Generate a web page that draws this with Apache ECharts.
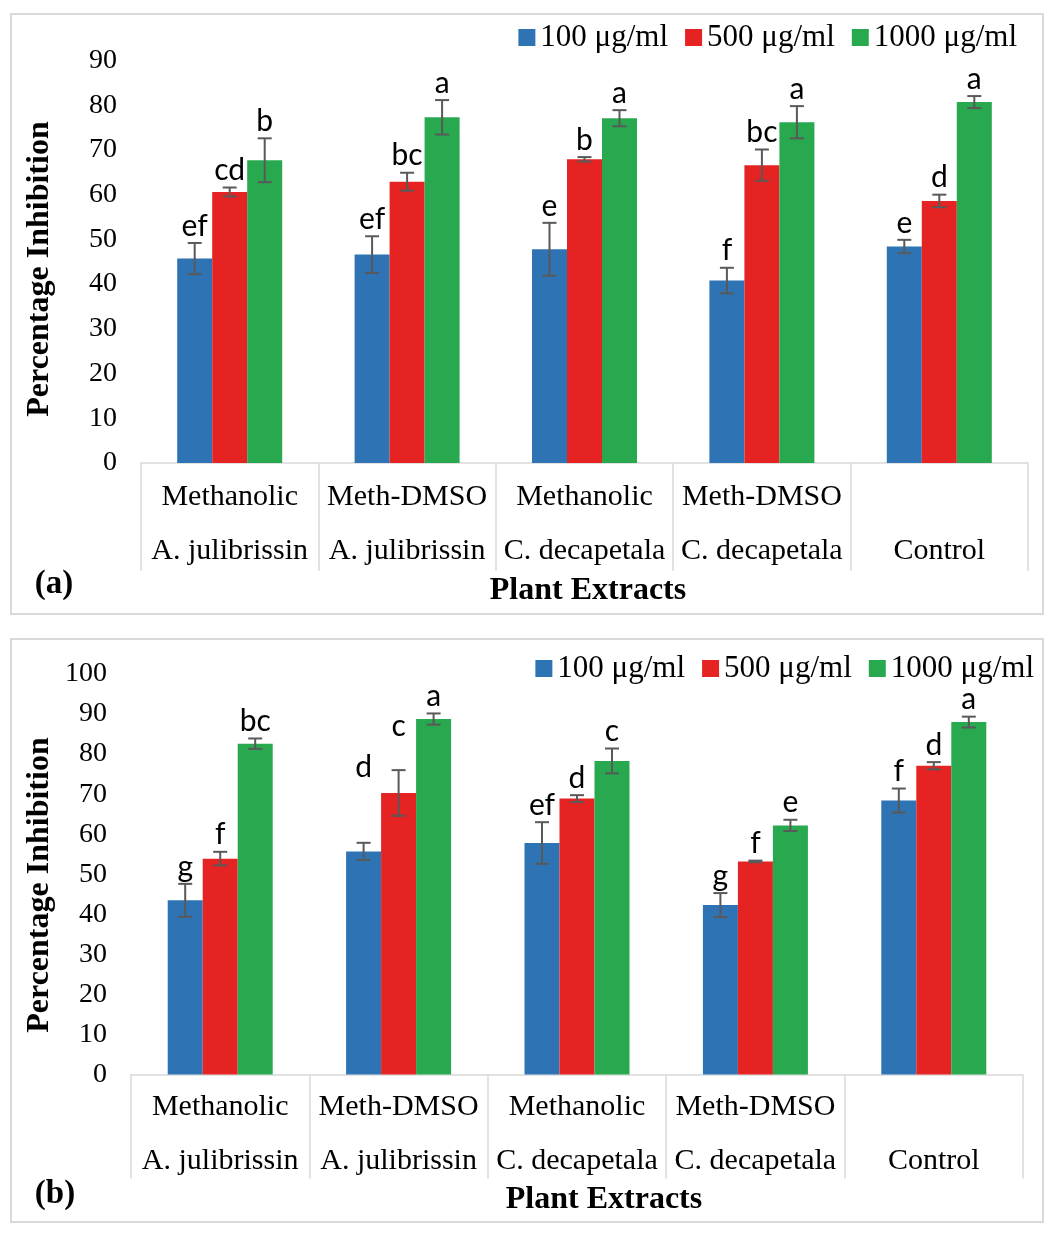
<!DOCTYPE html>
<html>
<head>
<meta charset="utf-8">
<script src="https://cdn.jsdelivr.net/npm/echarts@6/dist/echarts.min.js"></script>
<style>
  html, body { margin: 0; padding: 0; background: #fff; }
  #container { width: 1054px; height: 1235px; }
</style>
</head>
<body>
<div id="container"></div>
<script>
var categories = [
  "Methanolic\nA. julibrissin",
  "Meth-DMSO\nA. julibrissin",
  "Methanolic\nC. decapetala",
  "Meth-DMSO\nC. decapetala",
  "\nControl"
];
var seriesNames = ["100 μg/ml", "500 μg/ml", "1000 μg/ml"];

// panel (a)
var a100 = [45.7, 46.6, 47.8, 40.8, 48.4];
var a500 = [60.6, 62.9, 67.9, 66.6, 58.6];
var a1000 = [67.7, 77.3, 77.1, 76.2, 80.7];
var a100Err = [3.5, 4.1, 5.9, 2.85, 1.5];
var a500Err = [1.0, 2.0, 0.5, 3.5, 1.4];
var a1000Err = [4.9, 3.85, 1.8, 3.6, 1.35];
var a100Letters = ["ef", "ef", "e", "f", "e"];
var a500Letters = ["cd", "bc", "b", "bc", "d"];
var a1000Letters = ["b", "a", "a", "a", "a"];
var aTicks = [0, 90, 10];

// panel (b)
var b100 = [43.5, 55.7, 57.8, 42.3, 68.4];
var b500 = [53.9, 70.3, 68.9, 53.2, 77.1];
var b1000 = [82.6, 88.75, 78.3, 62.2, 88.0];
var b100Err = [4.1, 2.15, 5.2, 3.0, 3.0];
var b500Err = [1.7, 5.7, 0.85, 0.2, 0.9];
var b1000Err = [1.3, 1.4, 3.1, 1.4, 1.35];
var b100Letters = ["g", "d", "ef", "g", "f"];
var b500Letters = ["f", "c", "d", "f", "d"];
var b1000Letters = ["bc", "a", "c", "e", "a"];
var bTicks = [0, 100, 10];

var colors = ["#2E74B5", "#E42322", "#28A84F"];
var serif = "Liberation Serif";
var BAR_W = 35;

// a couple of letters sit higher than the rest in panel (b)
var letterLift = { "1:0:1": 58, "1:1:1": 27 };

var dom = document.getElementById("container");
var myChart = echarts.init(dom, null, { renderer: "canvas" });

function barSeries(name, data, color, gridIdx) {
  return {
    name: name,
    type: "bar",
    xAxisIndex: gridIdx,
    yAxisIndex: gridIdx,
    data: data,
    barWidth: BAR_W,
    barGap: "0%",
    itemStyle: { color: color },
    silent: true
  };
}

function errSeries(values, errs, letters, slot, gridIdx) {
  var data = values.map(function (v, j) { return [j, v, errs[j]]; });
  return {
    type: "custom",
    xAxisIndex: gridIdx,
    yAxisIndex: gridIdx,
    z: 5,
    silent: true,
    clip: false,
    data: data,
    encode: { x: 0, y: 1 },
    renderItem: function (params, api) {
      var j = api.value(0), v = api.value(1), e = api.value(2);
      var top = api.coord([j, v + e]);
      var bot = api.coord([j, v - e]);
      var x = top[0] + (slot - 1) * BAR_W;
      var lift = letterLift[gridIdx + ":" + slot + ":" + j] || 0;
      var ls = { stroke: "#595959", lineWidth: 2 };
      return {
        type: "group",
        children: [
          { type: "line", shape: { x1: x, y1: top[1], x2: x, y2: bot[1] }, style: ls },
          { type: "line", shape: { x1: x - 7, y1: top[1], x2: x + 7, y2: top[1] }, style: ls },
          { type: "line", shape: { x1: x - 7, y1: bot[1], x2: x + 7, y2: bot[1] }, style: ls },
          {
            type: "text",
            x: x,
            y: top[1] - 2 - lift,
            style: {
              text: letters[params.dataIndex],
              fontFamily: "Lato",
              fontSize: 30,
              fill: "#000",
              align: "center",
              verticalAlign: "bottom"
            }
          }
        ]
      };
    }
  };
}

function xAxisFor(gridIdx, margin, tickLen) {
  return {
    type: "category",
    gridIndex: gridIdx,
    data: categories,
    axisLine: { lineStyle: { color: "#d9d9d9", width: 1.5 } },
    axisTick: { show: true, length: tickLen, lineStyle: { color: "#d9d9d9", width: 1.5 } },
    axisLabel: {
      margin: margin,
      fontFamily: serif,
      fontSize: 30,
      lineHeight: 54,
      color: "#000",
      interval: 0
    }
  };
}

function yAxisFor(gridIdx, ticks) {
  return {
    type: "value",
    gridIndex: gridIdx,
    min: ticks[0],
    max: ticks[1],
    interval: ticks[2],
    axisLine: { show: false },
    axisTick: { show: false },
    splitLine: { show: false },
    axisLabel: { margin: 24, fontFamily: serif, fontSize: 28, color: "#000" }
  };
}

function legendFor(top, right) {
  return {
    data: seriesNames,
    top: top,
    right: right,
    icon: "rect",
    itemWidth: 17,
    itemHeight: 17,
    itemGap: 17,
    padding: 0,
    selectedMode: false,
    textStyle: { fontFamily: serif, fontSize: 31, color: "#000" }
  };
}

function label(text, x, y, size, rotate) {
  return {
    type: "text",
    x: x,
    y: y,
    rotation: rotate ? Math.PI / 2 : 0,
    style: {
      text: text,
      fontFamily: serif,
      fontWeight: "bold",
      fontSize: size,
      fill: "#000",
      align: "center",
      verticalAlign: "middle"
    }
  };
}

var option = {
  backgroundColor: "#fff",
  animation: false,
  legend: [legendFor(22, 37), legendFor(653, 20)],
  grid: [
    { left: 141, width: 887, top: 60.5, height: 402.5 },
    { left: 131, width: 892, top: 674, height: 400.5 }
  ],
  xAxis: [xAxisFor(0, 7, 108), xAxisFor(1, 5.5, 104)],
  yAxis: [yAxisFor(0, aTicks), yAxisFor(1, bTicks)],
  graphic: [
    { type: "rect", shape: { x: 11, y: 14, width: 1032, height: 600 },
      style: { fill: "none", stroke: "#d9d9d9", lineWidth: 2 } },
    { type: "rect", shape: { x: 11, y: 639, width: 1032, height: 583 },
      style: { fill: "none", stroke: "#d9d9d9", lineWidth: 2 } },
    label("Percentage Inhibition", 40, 269, 32, true),
    label("Percentage Inhibition", 40, 885, 32, true),
    label("Plant Extracts", 588, 591, 32),
    label("Plant Extracts", 604, 1200, 32),
    label("(a)", 54, 584, 33),
    label("(b)", 55, 1194, 33)
  ],
  series: [
    barSeries(seriesNames[0], a100, colors[0], 0),
    barSeries(seriesNames[1], a500, colors[1], 0),
    barSeries(seriesNames[2], a1000, colors[2], 0),
    errSeries(a100, a100Err, a100Letters, 0, 0),
    errSeries(a500, a500Err, a500Letters, 1, 0),
    errSeries(a1000, a1000Err, a1000Letters, 2, 0),
    barSeries(seriesNames[0], b100, colors[0], 1),
    barSeries(seriesNames[1], b500, colors[1], 1),
    barSeries(seriesNames[2], b1000, colors[2], 1),
    errSeries(b100, b100Err, b100Letters, 0, 1),
    errSeries(b500, b500Err, b500Letters, 1, 1),
    errSeries(b1000, b1000Err, b1000Letters, 2, 1)
  ]
};

myChart.setOption(option);
window.addEventListener("resize", myChart.resize);
</script>
</body>
</html>
